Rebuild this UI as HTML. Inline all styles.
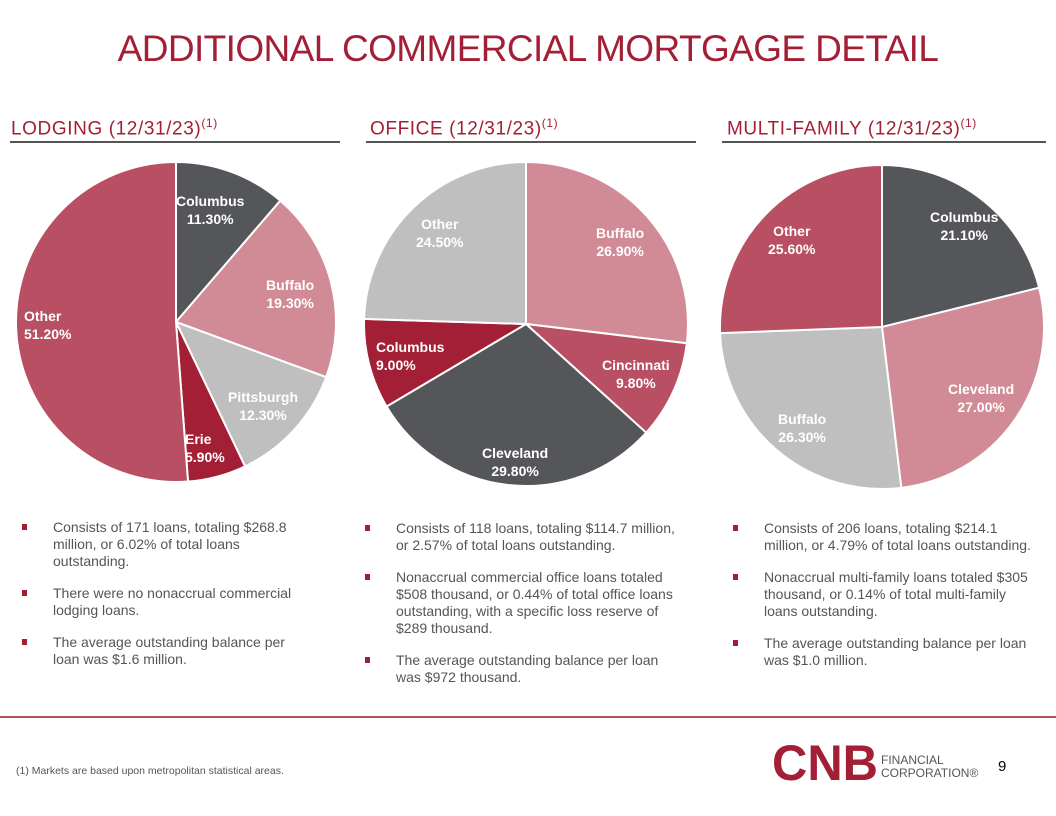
<!DOCTYPE html>
<html><head><meta charset="utf-8">
<style>
body{margin:0;width:1056px;height:816px;background:#fff;font-family:"Liberation Sans",sans-serif;position:relative;overflow:hidden}
.abs{position:absolute}
h1{position:absolute;left:0;width:1056px;top:28px;margin:0;text-align:center;font-weight:normal;font-size:37px;color:#a31f35;letter-spacing:-0.6px}
.hd{position:absolute;top:116px;font-size:19px;color:#a31f35;letter-spacing:0.6px;white-space:nowrap}
.hd sup{font-size:12px}
.ul{position:absolute;top:141px;height:2px;background:#555}
ul{position:absolute;margin:0;padding:0;list-style:none;font-size:14px;color:#555;line-height:17px}
li{position:relative;padding-left:36px;margin-bottom:15px}
li:before{content:"";position:absolute;left:5px;top:5px;width:5px;height:6px;background:#a31f35}
.lbl{position:absolute;color:#fff;font-weight:bold;font-size:14px;text-align:center;line-height:18px;white-space:nowrap}
</style></head><body>
<h1>ADDITIONAL COMMERCIAL MORTGAGE DETAIL</h1>
<div class="hd" style="left:11px">LODGING (12/31/23)<sup>(1)</sup></div>
<div class="hd" style="left:370px">OFFICE (12/31/23)<sup>(1)</sup></div>
<div class="hd" style="left:727px">MULTI-FAMILY (12/31/23)<sup>(1)</sup></div>
<div class="ul" style="left:10px;width:330px"></div>
<div class="ul" style="left:366px;width:330px"></div>
<div class="ul" style="left:722px;width:324px"></div>

<svg id="pies" class="abs" style="left:0;top:0" width="1056" height="816"></svg>

<div class="lbl" style="left:176px;top:192px">Columbus<br>11.30%</div>
<div class="lbl" style="left:266px;top:276px">Buffalo<br>19.30%</div>
<div class="lbl" style="left:228px;top:388px">Pittsburgh<br>12.30%</div>
<div class="lbl" style="left:185px;top:430px;text-align:left">Erie<br>5.90%</div>
<div class="lbl" style="left:24px;top:307px;text-align:left">Other<br>51.20%</div>
<div class="lbl" style="left:416px;top:215px">Other<br>24.50%</div>
<div class="lbl" style="left:596px;top:224px">Buffalo<br>26.90%</div>
<div class="lbl" style="left:376px;top:338px;text-align:left">Columbus<br>9.00%</div>
<div class="lbl" style="left:602px;top:356px">Cincinnati<br>9.80%</div>
<div class="lbl" style="left:482px;top:444px">Cleveland<br>29.80%</div>
<div class="lbl" style="left:930px;top:208px">Columbus<br>21.10%</div>
<div class="lbl" style="left:768px;top:222px">Other<br>25.60%</div>
<div class="lbl" style="left:948px;top:380px">Cleveland<br>27.00%</div>
<div class="lbl" style="left:778px;top:410px">Buffalo<br>26.30%</div>

<ul style="left:17px;top:519px;width:282px">
<li>Consists of 171 loans, totaling $268.8 million, or 6.02% of total loans outstanding.</li>
<li>There were no nonaccrual commercial lodging loans.</li>
<li>The average outstanding balance per loan was $1.6 million.</li>
</ul>
<ul style="left:360px;top:520px;width:318px">
<li>Consists of 118 loans, totaling $114.7 million, or 2.57% of total loans outstanding.</li>
<li>Nonaccrual commercial office loans totaled $508 thousand, or 0.44% of total office loans outstanding, with a specific loss reserve of $289 thousand.</li>
<li>The average outstanding balance per loan was $972 thousand.</li>
</ul>
<ul style="left:728px;top:520px;width:310px">
<li>Consists of 206 loans, totaling $214.1 million, or 4.79% of total loans outstanding.</li>
<li>Nonaccrual multi-family loans totaled $305 thousand, or 0.14% of total multi-family loans outstanding.</li>
<li>The average outstanding balance per loan was $1.0 million.</li>
</ul>

<div class="abs" style="left:0;top:716px;width:1056px;height:2px;background:#b94f62"></div>
<svg class="abs" style="left:770px;top:740px" width="112" height="44"><text x="2" y="40" font-size="50" font-weight="bold" fill="#a31f35" textLength="106" lengthAdjust="spacingAndGlyphs" font-family="Liberation Sans">CNB</text></svg>
<div class="abs" style="left:881px;top:754px;font-size:12px;line-height:13px;color:#54565a">FINANCIAL<br>CORPORATION®</div>
<div class="abs" style="left:998px;top:758px;font-size:15px;color:#000">9</div>
<div class="abs" style="left:16px;top:765px;font-size:10.5px;color:#555">(1) Markets are based upon metropolitan statistical areas.</div>

<script>
const lodgingValues=[11.3,19.3,12.3,5.9,51.2];
const officeValues=[26.9,9.8,29.8,9.0,24.5];
const mfValues=[21.1,27.0,26.3,25.6];
const lodgingColors=["#54565a","#d08b97","#bfbfbf","#a31f35","#b94f62"];
const officeColors=["#d08b97","#b94f62","#54565a","#a31f35","#bfbfbf"];
const mfColors=["#54565a","#d08b97","#bfbfbf","#b94f62"];
const svg=document.getElementById('pies');
function pie(vals,cols,cx,cy,r){
  const tot=vals.reduce((a,b)=>a+b,0);let a0=0;
  vals.forEach((v,i)=>{
    const a1=a0+v/tot*2*Math.PI;
    const x0=cx+r*Math.sin(a0),y0=cy-r*Math.cos(a0),x1=cx+r*Math.sin(a1),y1=cy-r*Math.cos(a1);
    const p=document.createElementNS('http://www.w3.org/2000/svg','path');
    p.setAttribute('d',`M${cx},${cy}L${x0},${y0}A${r},${r} 0 ${a1-a0>Math.PI?1:0} 1 ${x1},${y1}Z`);
    p.setAttribute('fill',cols[i]);p.setAttribute('stroke','#fff');p.setAttribute('stroke-width','2');
    
    
    svg.appendChild(p);a0=a1;
  });
}
pie(lodgingValues,lodgingColors,176,322,160);
pie(officeValues,officeColors,526,324,162);
pie(mfValues,mfColors,882,327,162);
</script>
</body></html>
